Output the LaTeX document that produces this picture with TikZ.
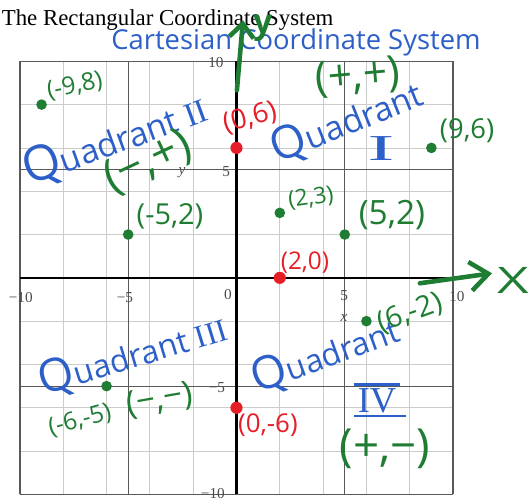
\documentclass[tikz,border=0pt]{standalone}
\usepackage{fontspec}
\setmainfont{Liberation Serif}
\newfontfamily\handfont{Open Sans}
\usetikzlibrary{arrows.meta}
\definecolor{inkblue}{RGB}{45,95,200}
\definecolor{inkgreen}{RGB}{30,125,50}
\definecolor{inkred}{RGB}{230,30,40}
\tikzset{
  minorline/.style={black!20,line width=0.5pt},
  majorline/.style={black!65,line width=0.8pt},
  ticklbl/.style={black!70,inner sep=0pt,font=\fontsize{10}{10}\selectfont},
  hw/.style={inner sep=0pt,font=\handfont\fontsize{#1}{#1}\selectfont},
  gpt/.style={circle,fill=inkgreen,inner sep=0pt,minimum size=7pt},
  rpt/.style={circle,fill=inkred,inner sep=0pt,minimum size=8pt},
  penline/.style={line width=3pt,line cap=round},
}

\begin{document}
\begin{tikzpicture}[x=0.5cm,y=0.5cm]
\useasboundingbox (-10.92,-10.26) rectangle (13.60,12.83);
% printed grid
\draw[minorline] (-10,-10) grid (10,10);
\foreach \k in {-10,-5,5,10} {
  \draw[majorline] (\k,-10) -- (\k,10);
  \draw[majorline] (-10,\k) -- (10,\k);
}
\draw[line width=1.4pt] (-10,0) -- (10,0);
\draw[line width=1.4pt] (0,-10) -- (0,10);
\node[anchor=base west,inner sep=0pt,font=\fontsize{15}{15}\selectfont] (title) at (-10.85,11.66) {The Rectangular Coordinate System};
% tick labels
\node[ticklbl] (tx1) at (-9.96,-0.90) {−10};
\node[ticklbl] (tx2) at (-5.15,-0.90) {−5};
\node[ticklbl] (tx0) at (-0.39,-0.76) {0};
\node[ticklbl] (tx3) at (4.97,-0.81) {5};
\node[ticklbl] (tx4) at (10.18,-0.85) {10};
\node[ticklbl] (ty4) at (-0.95,9.95) {10};
\node[ticklbl] (ty3) at (-0.48,4.92) {5};
\node[ticklbl] (ty2) at (-0.90,-5.06) {−5};
\node[ticklbl] (ty1) at (-1.09,-9.95) {−10};
\node[ticklbl,font=\itshape\fontsize{10}{10}\selectfont] (yname) at (-2.52,4.87) {y};
\node[ticklbl,font=\itshape\fontsize{10}{10}\selectfont] (xname) at (4.97,-1.87) {x};
% pen notes
\node[hw=18,inkblue] (cart) at (2.75,10.88) {Cartesian Coordinate System};
\coordinate (ytail) at (0.02,8.66);
\coordinate (yhead) at (0.30,11.89);
\draw[inkgreen,penline,-{Straight Barb[length=9pt,width=16pt]}] (ytail) -- (yhead);
\node[hw=22,inkgreen,font=\handfont\bfseries\fontsize{22}{22}\selectfont] (ypen) at (1.22,11.52) {y};
\coordinate (xtail) at (8.47,-0.25);
\coordinate (xhead) at (11.80,0.21);
\draw[inkgreen,penline,-{Straight Barb[length=12pt,width=19pt]}] (xtail) -- (xhead);
\node[hw=24,inkgreen,xscale=1.5] (xpen) at (12.77,-0.12) {X};
% quadrants
\node[hw=22,inkblue,rotate=20] (q2) at (-5.61,6.35) {{\fontsize{32}{32}\selectfont Q}uadrant {\rmfamily II}};
\node[hw=30,inkgreen,rotate=25] (s2) at (-4.09,5.33) {(−,+)};
\node[hw=28,inkgreen,rotate=5] (s1) at (5.61,9.26) {(+,+)};
\node[hw=22,inkblue,rotate=22] (q1) at (5.10,7.18) {{\fontsize{30}{30}\selectfont Q}uadrant};
\node[hw=24,inkblue,xscale=2.2] (n1) at (6.67,5.98) {\rmfamily I};
\node[hw=21,inkblue,rotate=17] (q3) at (-4.78,-3.58) {{\fontsize{30}{30}\selectfont Q}uadrant {\rmfamily III}};
\node[hw=22,inkgreen,rotate=10] (s3) at (-3.53,-5.66) {(−,−)};
\node[hw=21,inkblue,rotate=20] (q4) at (4.09,-3.58) {{\fontsize{30}{30}\selectfont Q}uadrant};
\node[hw=24,inkblue,inner sep=2pt] (n4) at (6.49,-5.66) {\rmfamily IV};
\draw[inkblue,line width=1.8pt] (n4.north west) -- (n4.north east);
\draw[inkblue,line width=1.8pt] (n4.south west) -- ([xshift=4pt]n4.south east);
\node[hw=30,inkgreen] (s4) at (6.86,-7.88) {(+,−)};
% points
\node[gpt] (p1) at (-9,8) {};
\node[gpt] (p2) at (-5,2) {};
\node[gpt] (p3) at (2,3) {};
\node[gpt] (p4) at (5,2) {};
\node[gpt] (p5) at (9,6) {};
\node[gpt] (p6) at (6,-2) {};
\node[gpt] (p7) at (-6,-5) {};
\node[rpt] (r1) at (0,6) {};
\node[rpt] (r2) at (2,0) {};
\node[rpt] (r3) at (0,-6) {};
\node[hw=16,inkgreen,rotate=12] (l1) at (-7.46,8.85) {(-9,8)};
\node[hw=19,inkgreen] (l2) at (-3.07,2.84) {(-5,2)};
\node[hw=15,inkgreen,rotate=8] (l3) at (3.44,3.67) {(2,3)};
\node[hw=22,inkgreen] (l4) at (7.18,2.89) {(5,2)};
\node[hw=18,inkgreen] (l5) at (10.65,6.77) {(9,6)};
\node[hw=19,inkgreen,rotate=20] (l6) at (8.01,-1.64) {(6,-2)};
\node[hw=16,inkgreen,rotate=15] (l7) at (-7.23,-6.58) {(-6,-5)};
\node[hw=18,inkred,rotate=15] (m1) at (0.62,7.37) {(0,6)};
\node[hw=16,inkred] (m2) at (3.16,0.72) {(2,0)};
\node[hw=17,inkred] (m3) at (1.45,-6.81) {(0,-6)};
\end{tikzpicture}
\end{document}
